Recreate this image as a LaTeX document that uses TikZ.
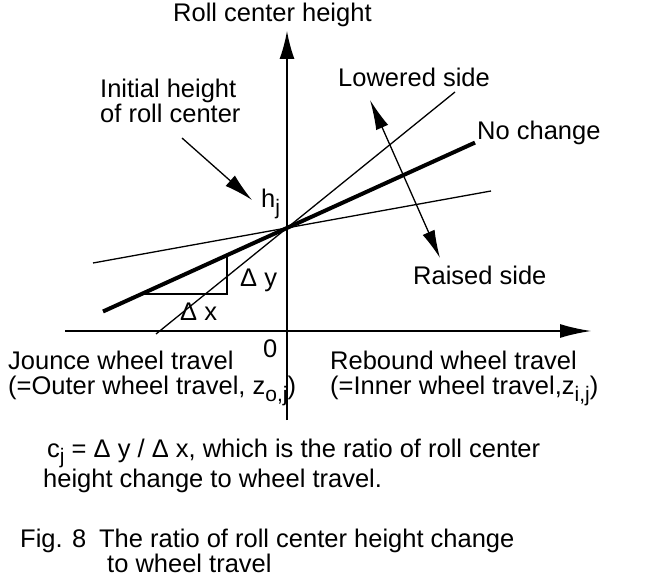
\documentclass[tikz,border=0pt]{standalone}
\usepackage{fontspec}
\setmainfont{Liberation Sans}
\usetikzlibrary{arrows.meta}
\newcommand{\lowsub}[1]{\raisebox{-0.45ex}{\fontsize{21}{21}\selectfont #1}}

\begin{document}
\begin{tikzpicture}[x=1pt,y=-1pt,>={Latex[length=29pt,width=14pt]},
    lbl/.style={inner sep=0pt,anchor=base west,font=\fontsize{25.5}{27}\selectfont},
    axisline/.style={line width=1.5pt},
    rcline/.style={line width=1.3pt},
    nochange/.style={line width=4pt}]
    \useasboundingbox (0,0) rectangle (654,580);

    % axes
    \coordinate (ybot) at (287,420);
    \coordinate (ytop) at (287,31);
    \coordinate (xleft) at (65,331);
    \coordinate (xright) at (591,331);
    \draw[axisline,-{Latex[length=28pt,width=15pt]}] (ybot) -- (ytop);
    \draw[axisline,-{Latex[length=31pt,width=14pt]}] (xleft) -- (xright);

    % roll center lines
    \coordinate (lw1) at (156,334);
    \coordinate (lw2) at (455,92);
    \coordinate (rs1) at (93,263);
    \coordinate (rs2) at (491,191);
    \coordinate (nc1) at (103,311.5);
    \coordinate (nc2) at (475,142.6);
    \draw[rcline] (lw1) -- (lw2);
    \draw[rcline] (rs1) -- (rs2);
    \draw[nochange] (nc1) -- (nc2);

    % slope triangle
    \coordinate (tA) at (142,294);
    \coordinate (tB) at (227,294);
    \coordinate (tC) at (227,255);
    \draw[rcline] (tA) -- (tB) -- (tC);

    % labels
    \node[lbl] (title) at (173,22) {Roll center height};
    \node[lbl] (init1) at (100,98) {Initial height};
    \node[lbl] (init2) at (100,123) {of roll center};
    \node[lbl] (lowered) at (338,87) {Lowered side};
    \node[lbl] (nochg) at (477,140) {No change};
    \node[lbl] (raised) at (413,285) {Raised side};
    \node[lbl] (hj) at (261,208) {h\lowsub{j}};
    \node[lbl] (dy) at (240,287) {Δ y};
    \node[lbl] (dx) at (180,321) {Δ x};
    \node[lbl] (zero) at (263,358) {0};
    \node[lbl] (jounce1) at (8,370) {Jounce wheel travel};
    \node[lbl] (jounce2) at (8,395) {(=Outer wheel travel, z\lowsub{o,j})};
    \node[lbl] (rebound1) at (330,370) {Rebound wheel travel};
    \node[lbl] (rebound2) at (330,395) {(=Inner wheel travel,z\lowsub{i,j})};
    \node[lbl] (ratio1) at (47,457) {c\lowsub{j} = Δ y / Δ x, which is the ratio of roll center};
    \node[lbl] (ratio2) at (43,487) {height change to wheel travel.};
    \node[lbl] (cap1) at (20,547) {Fig. 8\enspace The ratio of roll center height change};
    \node[lbl] (cap2) at (107,572) {to wheel travel};

    % arrows
    \coordinate (ia1) at (182,138);
    \coordinate (ia2) at (252,200);
    \draw[rcline,->] (ia1) -- (ia2);
    \coordinate (da1) at (370,100);
    \coordinate (da2) at (440,258);
    \draw[rcline,{Latex[length=30pt,width=13pt]}-{Latex[length=28pt,width=13pt]}] (da1) -- (da2);
\end{tikzpicture}
\end{document}
